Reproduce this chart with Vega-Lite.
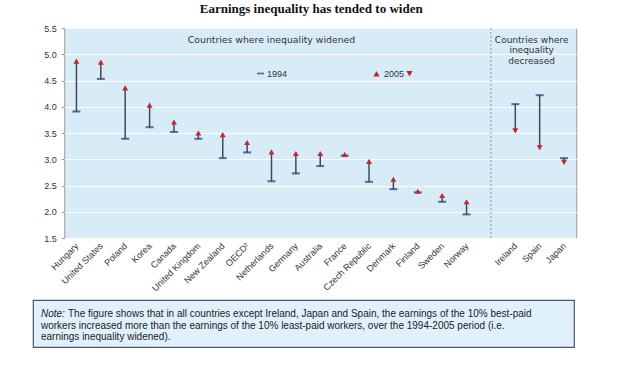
{
  "$schema": "https://vega.github.io/schema/vega-lite/v6.json",
  "background": "white",
  "padding": {"left": 32, "top": 2, "right": 5, "bottom": 5},
  "title": {"text": "Earnings inequality has tended to widen", "font": "Liberation Serif", "fontSize": 13, "fontWeight": "bold", "color": "#111", "anchor": "middle", "offset": 8, "dx": -9},
  "spacing": 5,
  "center": true,
  "config": {
    "axisY": {"tickCount": 8, "format": ".1f", "grid": true, "gridColor": "white", "gridWidth": 1, "domain": false, "ticks": true, "tickSize": 3, "tickColor": "#999", "labelPadding": 5, "labelFont": "Liberation Sans", "labelFontSize": 9, "labelColor": "#333", "labelOverlap": false}
  },
  "vconcat": [
    {
      "width": 512,
      "height": 210,
      "view": {"fill": "#d8ecf8", "stroke": "#9a9a9a"},
      "data": {"values": [
        {"country": "Hungary", "v1994": 3.91, "v2005": 4.87, "group": "widened"},
        {"country": "United States", "v1994": 4.53, "v2005": 4.85, "group": "widened"},
        {"country": "Poland", "v1994": 3.39, "v2005": 4.36, "group": "widened"},
        {"country": "Korea", "v1994": 3.61, "v2005": 4.03, "group": "widened"},
        {"country": "Canada", "v1994": 3.52, "v2005": 3.71, "group": "widened"},
        {"country": "United Kingdom", "v1994": 3.39, "v2005": 3.5, "group": "widened"},
        {"country": "New Zealand", "v1994": 3.02, "v2005": 3.47, "group": "widened"},
        {"country": "OECD²", "v1994": 3.13, "v2005": 3.32, "group": "widened"},
        {"country": "Netherlands", "v1994": 2.58, "v2005": 3.14, "group": "widened"},
        {"country": "Germany", "v1994": 2.73, "v2005": 3.11, "group": "widened"},
        {"country": "Australia", "v1994": 2.87, "v2005": 3.11, "group": "widened"},
        {"country": "France", "v1994": 3.07, "v2005": 3.09, "group": "widened"},
        {"country": "Czech Republic", "v1994": 2.57, "v2005": 2.96, "group": "widened"},
        {"country": "Denmark", "v1994": 2.43, "v2005": 2.62, "group": "widened"},
        {"country": "Finland", "v1994": 2.37, "v2005": 2.39, "group": "widened"},
        {"country": "Sweden", "v1994": 2.19, "v2005": 2.31, "group": "widened"},
        {"country": "Norway", "v1994": 1.95, "v2005": 2.19, "group": "widened"},
        {"country": "Ireland", "v1994": 4.05, "v2005": 3.54, "group": "decreased"},
        {"country": "Spain", "v1994": 4.22, "v2005": 3.22, "group": "decreased"},
        {"country": "Japan", "v1994": 3.02, "v2005": 2.94, "group": "decreased"}
      ]},
      "encoding": {
        "x": {
          "field": "country", "type": "nominal", "title": null,
          "scale": {"type": "point", "padding": 0.5, "domain": ["Hungary", "United States", "Poland", "Korea", "Canada", "United Kingdom", "New Zealand", "OECD²", "Netherlands", "Germany", "Australia", "France", "Czech Republic", "Denmark", "Finland", "Sweden", "Norway", " ", "Ireland", "Spain", "Japan"]},
          "axis": {"labelAngle": -45, "labelAlign": "right", "labelBaseline": "middle", "labelPadding": 6, "ticks": false, "domain": false, "grid": false, "labelFont": "Liberation Sans", "labelFontSize": 9, "labelColor": "#333"}
        }
      },
      "layer": [
        {
          "data": {"values": [{}]},
          "mark": {"type": "rule", "color": "#999", "strokeDash": [2, 2], "strokeWidth": 1},
          "encoding": {"x": {"datum": " "}}
        },
        {
          "mark": {"type": "rule", "color": "#404a55", "strokeWidth": 1.5},
          "encoding": {
            "y": {"field": "v1994", "type": "quantitative", "title": null,
              "scale": {"domain": [1.5, 5.5], "nice": false, "zero": false}},
            "y2": {"field": "v2005"}
          }
        },
        {
          "mark": {"type": "tick", "thickness": 2, "size": 8},
          "encoding": {
            "y": {"field": "v1994", "type": "quantitative", "title": null},
            "color": {"datum": "1994", "scale": {"range": ["#22346a"]},
              "legend": {"title": null, "orient": "none", "legendX": 223, "legendY": 41, "symbolType": "M-1,-0.25H1V0.25H-1Z", "symbolSize": 50, "labelFont": "Liberation Sans", "labelFontSize": 9, "labelColor": "#333", "labelOffset": 2}}
          }
        },
        {
          "mark": {"type": "point", "filled": true, "color": "#c3262c", "opacity": 1, "size": 35},
          "encoding": {
            "y": {"field": "v2005", "type": "quantitative", "title": null},
            "shape": {"field": "group", "type": "nominal",
              "scale": {"domain": ["widened", "decreased"], "range": ["triangle-up", "triangle-down"]},
              "legend": {"title": null, "orient": "none", "legendX": 339, "legendY": 41, "direction": "horizontal", "columns": 2, "columnPadding": 0, "symbolFillColor": "#c3262c", "symbolStrokeColor": "#c3262c", "symbolStrokeWidth": 0, "symbolSize": 40, "labelExpr": "datum.label == 'widened' ? '2005' : ''", "labelFont": "Liberation Sans", "labelFontSize": 9, "labelColor": "#333", "labelOffset": 3}}
          }
        },
        {
          "data": {"values": [{}]},
          "mark": {"type": "text", "text": "Countries where inequality widened", "font": "DejaVu Sans", "fontSize": 9.3, "color": "#333", "baseline": "top", "align": "center"},
          "encoding": {"x": {"datum": "Netherlands"}, "y": {"datum": 5.35, "type": "quantitative", "title": null}}
        },
        {
          "data": {"values": [{}]},
          "mark": {"type": "text", "text": ["Countries where", "inequality", "decreased"], "font": "DejaVu Sans", "fontSize": 9, "color": "#333", "baseline": "top", "align": "center", "lineHeight": 10.5, "dx": -8},
          "encoding": {"x": {"datum": "Spain"}, "y": {"datum": 5.35, "type": "quantitative", "title": null}}
        }
      ]
    },
    {
      "spacing": 0,
      "hconcat": [
        {
          "width": 541,
          "height": 47,
          "view": {"fill": "#e0f1fc", "stroke": "#4c5478", "strokeWidth": 1.2},
          "data": {"values": [
            {"line": 1, "text": "The figure shows that in all countries except Ireland, Japan and Spain, the earnings of the 10% best-paid"},
            {"line": 2, "text": "workers increased more than the earnings of the 10% least-paid workers, over the 1994-2005 period (i.e."},
            {"line": 3, "text": "earnings inequality widened)."}
          ]},
          "encoding": {
            "y": {"field": "line", "type": "ordinal", "axis": null, "scale": {"type": "point", "padding": 1}},
            "x": {"datum": 0, "type": "quantitative", "scale": {"domain": [0, 1]}, "axis": null}
          },
          "layer": [
            {
              "transform": [{"filter": "datum.line == 1"}],
              "mark": {"type": "text", "align": "left", "baseline": "middle", "font": "Liberation Sans", "fontSize": 10, "color": "#222", "dx": 35, "dy": 2},
              "encoding": {"text": {"field": "text"}}
            },
            {
              "transform": [{"filter": "datum.line != 1"}],
              "mark": {"type": "text", "align": "left", "baseline": "middle", "font": "Liberation Sans", "fontSize": 10, "color": "#222", "dx": 8, "dy": 2},
              "encoding": {"text": {"field": "text"}}
            },
            {
              "transform": [{"filter": "datum.line == 1"}],
              "mark": {"type": "text", "text": "Note:", "align": "left", "baseline": "middle", "font": "Liberation Sans", "fontSize": 10, "fontStyle": "italic", "color": "#222", "dx": 8, "dy": 2}
            }
          ]
        },
        {
          "width": 33,
          "height": 47,
          "view": {"stroke": null, "fill": null},
          "data": {"values": [{}]},
          "mark": {"type": "text", "text": ""}
        }
      ]
    }
  ]
}
